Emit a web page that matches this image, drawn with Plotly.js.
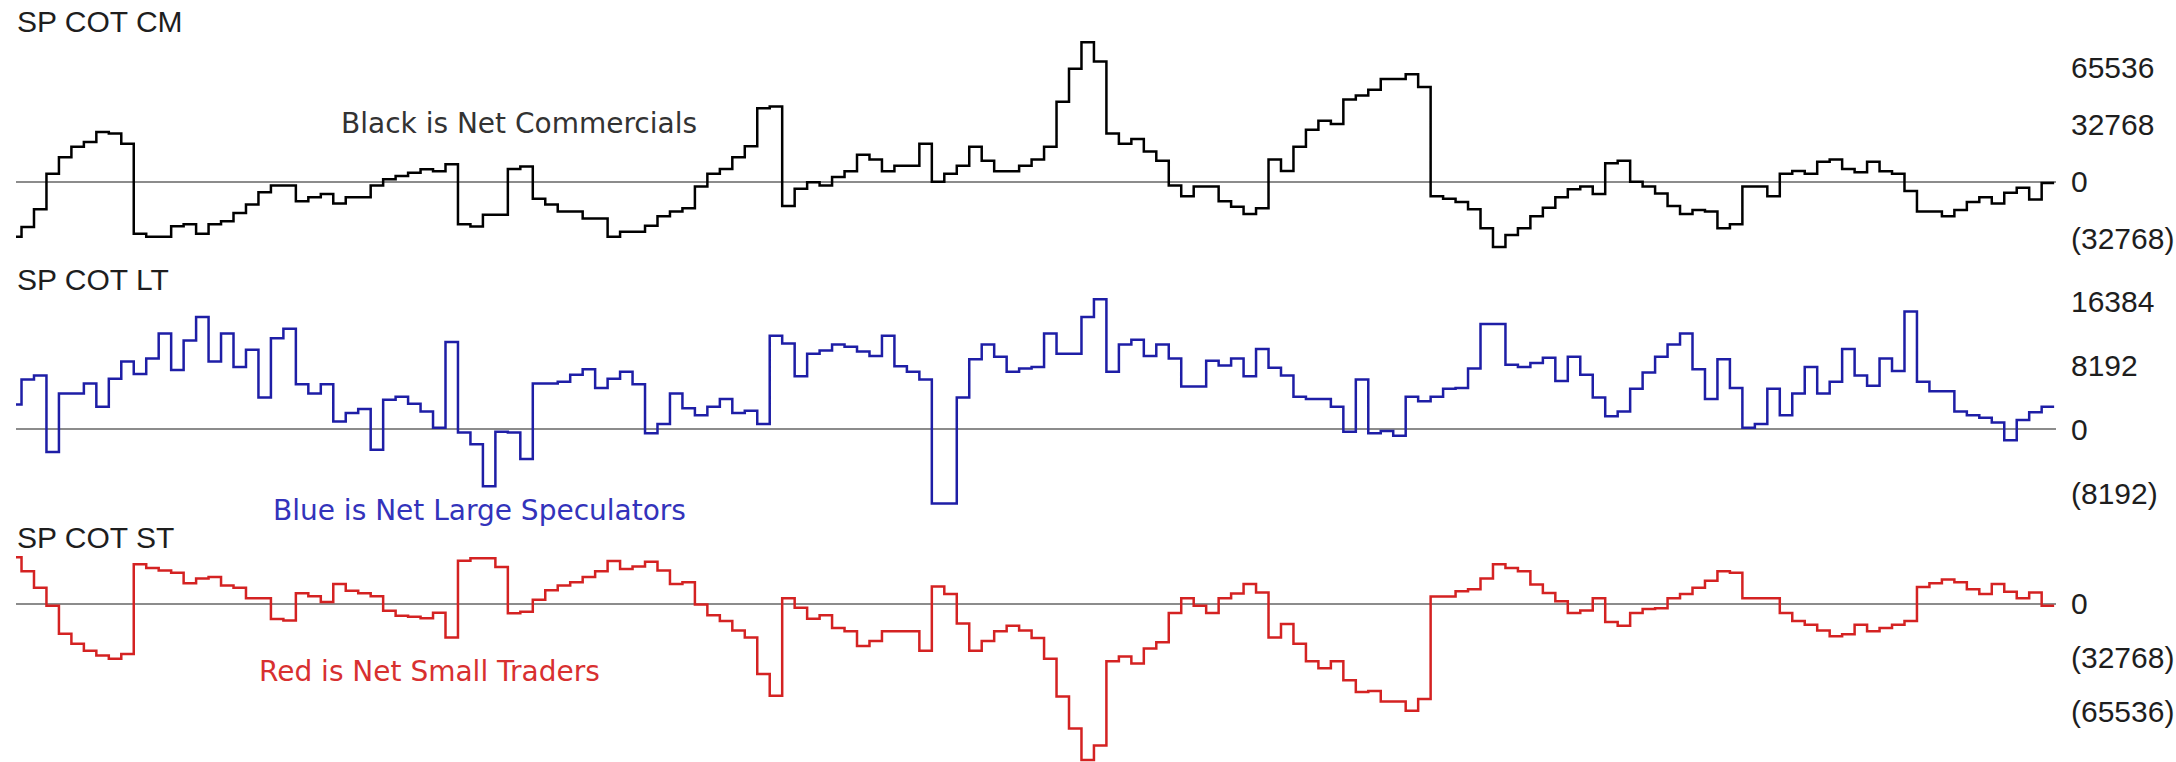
<!DOCTYPE html>
<html>
<head>
<meta charset="utf-8">
<script src="https://cdn.plot.ly/plotly-3.0.1.min.js"></script>
<style>
  html, body { margin: 0; padding: 0; background: #ffffff; }
  #chart { width: 2176px; height: 762px; }
</style>
</head>
<body>
<div id="chart"></div>
<script>
// ---- Data: weekly net positions (one value per week) ----
const cmNet = [
  -31600,-26100,-15800,4600,14100,20100,22800,28600,27700,21800,
  -29900,-31600,-31600,-25600,-24500,-29900,-24500,-22800,-18000,-13100,
  -6000,-2200,-2200,-11200,-9000,-7100,-12500,-9000,-9000,-2200,
  1400,3300,5200,7100,6000,10100,-24500,-25800,-19000,-19000,
  7300,8700,-9800,-13100,-17100,-17100,-21200,-21200,-31600,-28800,
  -28800,-25300,-19900,-17100,-15200,-2700,4600,7300,14100,20400,
  42200,43200,-13900,-4100,-300,-2200,2700,6000,15500,12800,
  6000,9200,9200,21800,0,4600,9200,20100,12000,6000,
  6000,9200,12800,20100,46000,65000,80200,69100,27700,21800,
  24500,17400,12000,-2200,-8400,-2700,-2700,-11200,-14400,-18500,
  -15200,12800,6200,20100,29900,35100,33200,47300,49500,52800,
  59000,59000,61700,54400,-8400,-9800,-11700,-15800,-26700,-37500,
  -30700,-26700,-19900,-15000,-9000,-4400,-2700,-7100,10600,12000,
  0,-2700,-6800,-13900,-18500,-16300,-17100,-26700,-24500,-2700,
  -2700,-8400,4600,6200,4600,11400,12800,7300,5400,11400,
  6000,4600,-5400,-17100,-17100,-19900,-16300,-11700,-9000,-12500,
  -6300,-3500,-10300,-800
];
const ltNet = [
  3200,6400,6900,-2900,4600,4600,5900,2900,6500,8700,
  7100,9100,12300,7600,11400,14400,8700,12300,8000,10200,
  4100,11700,12900,5800,4600,5800,1000,2100,2600,-2600,
  3800,4200,3300,2300,200,11200,-400,-1900,-7300,-300,
  -400,-3800,5900,5900,6100,7000,7700,5300,6500,7400,
  5800,-500,700,4600,2700,1800,2900,3900,2100,2400,
  700,12000,11000,6800,9700,10100,10900,10600,10000,9400,
  12000,8100,7400,6400,-9500,-9500,4100,9000,10900,9300,
  7400,7800,8000,12300,9700,9700,14400,16700,7400,10900,
  11500,9400,10900,9100,5500,5500,8800,8200,9100,6800,
  10300,7900,6900,4200,3900,3900,2900,-300,6400,-500,
  -200,-800,4200,3600,4200,5200,5300,7800,13500,13500,
  8300,8000,8500,9200,6200,9300,7000,4100,1700,2300,
  5200,7300,9300,10900,12300,7700,3900,9000,5300,200,
  700,5200,1800,4600,8000,4600,6100,10300,6900,5600,
  9100,7500,15100,6100,4900,4900,2300,1800,1500,900,
  -1400,1200,2200,2900
];
const stNet = [
  28100,19500,9500,-1400,-18400,-24400,-28700,-31600,-33600,-30700,
  23800,21500,20100,18600,12300,15200,16100,10900,9500,3200,
  3200,-9400,-10300,6200,4400,900,11800,7700,6200,4400,
  -4400,-7400,-8000,-8900,-5600,-20700,26000,27400,27400,22100,
  -5900,-5000,2300,8000,10900,12900,16100,19500,25800,21000,
  22400,25300,20100,11800,12900,-600,-7200,-10600,-16400,-20700,
  -42800,-56000,3200,-2600,-9200,-7200,-14900,-16900,-25800,-22700,
  -16900,-16900,-16900,-28700,10300,5700,-12100,-28700,-22700,-16900,
  -13500,-16400,-21000,-33600,-56500,-75800,-95000,-86100,-35000,-32100,
  -36400,-27300,-23500,-5700,3200,-1400,-5700,3200,6000,11800,
  6600,-20700,-12500,-24400,-35000,-39300,-35000,-46500,-53700,-53100,
  -59400,-59400,-65100,-58000,4300,4300,7500,8600,15200,23800,
  21500,19500,11500,6300,1400,-5700,-4300,3200,-11200,-13500,
  -5700,-3400,-2900,3200,5700,9500,13800,19500,18700,3200,
  3200,3200,-5700,-10600,-12900,-16400,-19800,-18700,-12900,-16900,
  -14900,-12900,-10600,10000,12300,14600,12900,8600,5700,11800,
  7200,3200,6600,-1400
];

// ---- Tick labels ----
const cmTickVals = [65536, 32768, 0, -32768];
const cmTickText = ['65536', '32768', '0', '(32768)'];
const ltTickVals = [16384, 8192, 0, -8192];
const ltTickText = ['16384', '8192', '0', '(8192)'];
const stTickVals = [0, -32768, -65536];
const stTickText = ['0', '(32768)', '(65536)'];

// ---- Panel / annotation texts ----
const panelTitles = ['SP COT CM', 'SP COT LT', 'SP COT ST'];
const noteTexts = ['Black is Net Commercials', 'Blue is Net Large Speculators', 'Red is Net Small Traders'];

// ---- Layout helpers (pixel geometry) ----
const W = 2176, H = 762;
function panelAxis(zeroPx, pxPerUnit, topPx, botPx) {
  return {
    domain: [1 - botPx / H, 1 - topPx / H],
    range: [(zeroPx - botPx) / pxPerUnit, (zeroPx - topPx) / pxPerUnit]
  };
}
function stepTrace(vals, color, yax) {
  const x = vals.map((_, i) => i);
  x.push(vals.length);
  const y = vals.slice();
  y.push(vals[vals.length - 1]);
  return {
    x: x, y: y, yaxis: yax, type: 'scatter', mode: 'lines',
    line: { shape: 'hv', color: color, width: 2.5 },
    hoverinfo: 'skip'
  };
}

const tickFont = { family: 'Liberation Sans Narrow, Arial Narrow, sans-serif', size: 30, color: '#1e1e1e' };
const noteFont = 'DejaVu Sans, Verdana, sans-serif';

function yAxisCfg(geom, tv, tt) {
  return {
    domain: geom.domain, range: geom.range, anchor: 'x', side: 'right',
    showgrid: false, zeroline: true, zerolinecolor: '#8c8c8c', zerolinewidth: 2,
    showline: false, ticks: '', tickmode: 'array', tickvals: tv, ticktext: tt,
    tickfont: tickFont, ticklabelstandoff: 14, fixedrange: true
  };
}

const cmGeom = panelAxis(181.7, 57 / 32768, 30, 262);
const ltGeom = panelAxis(429.4, 63.9 / 8192, 268, 515);
const stGeom = panelAxis(603.5, 54 / 32768, 520, 762);

const plotW = 2040;
function ann(text, xPx, yPx, font) {
  return {
    xref: 'paper', yref: 'paper', x: (xPx - 16) / plotW, y: 1 - yPx / H,
    xanchor: 'left', yanchor: 'middle', text: text, showarrow: false, font: font
  };
}

const layout = {
  width: W, height: H,
  margin: { l: 16, r: 120, t: 0, b: 0 },
  paper_bgcolor: '#ffffff', plot_bgcolor: '#ffffff',
  showlegend: false,
  xaxis: { range: [0.557, 164.15], visible: false, fixedrange: true },
  yaxis: yAxisCfg(cmGeom, cmTickVals, cmTickText),
  yaxis2: yAxisCfg(ltGeom, ltTickVals, ltTickText),
  yaxis3: yAxisCfg(stGeom, stTickVals, stTickText),
  annotations: [
    ann(panelTitles[0], 15, 22, tickFont),
    ann(panelTitles[1], 15, 279, tickFont),
    ann(panelTitles[2], 15, 537, tickFont),
    ann(noteTexts[0], 339, 124, { family: noteFont, size: 28, color: '#333333' }),
    ann(noteTexts[1], 271, 510, { family: noteFont, size: 28, color: '#3333bb' }),
    ann(noteTexts[2], 257, 671, { family: noteFont, size: 28, color: '#d83030' })
  ]
};

const data = [
  stepTrace(cmNet, '#000000', 'y'),
  stepTrace(ltNet, '#1e1ea6', 'y2'),
  stepTrace(stNet, '#d42222', 'y3')
];

Plotly.newPlot('chart', data, layout, { displayModeBar: false, staticPlot: true });
</script>
</body>
</html>
